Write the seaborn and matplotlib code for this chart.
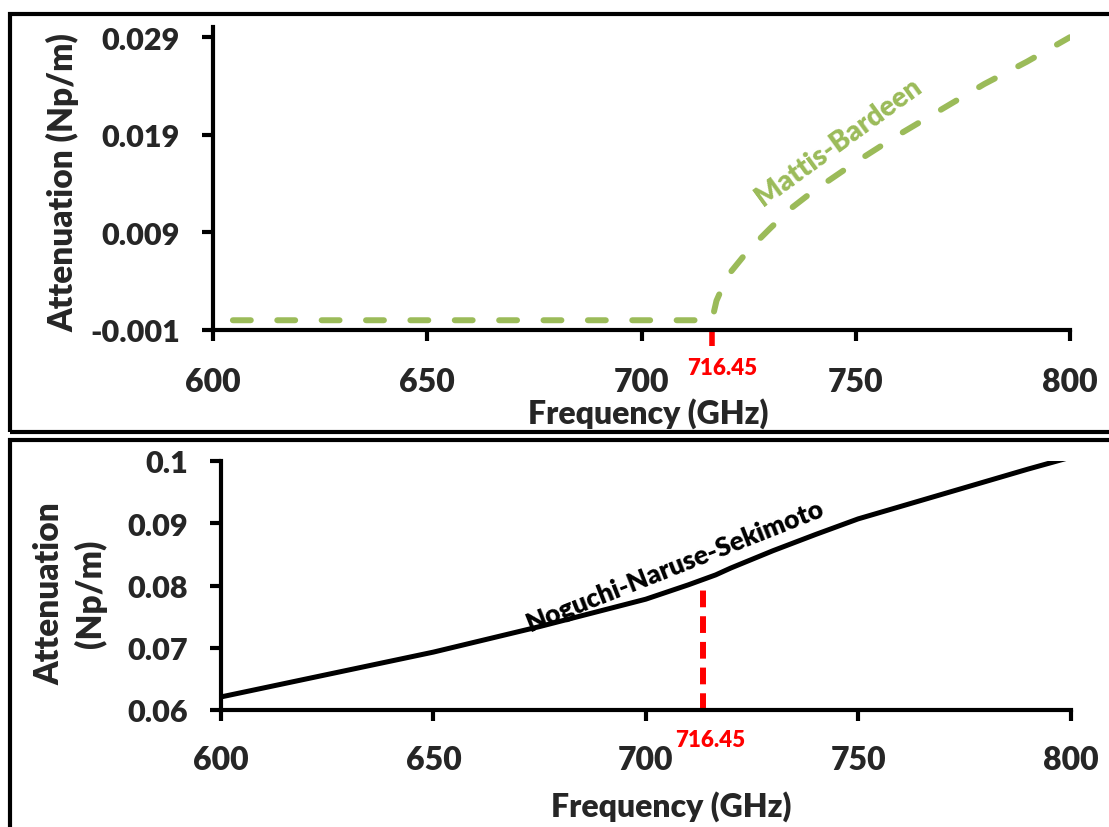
import matplotlib
matplotlib.use("Agg")
import matplotlib.pyplot as plt
import seaborn as sns
from matplotlib.patches import Rectangle

# ---------------- data ----------------
# Mattis-Bardeen attenuation (Np/m) vs frequency (GHz)
freq_mb = [600, 650, 700, 716.45, 717.5, 720, 725, 730, 735, 740, 745, 750,
           760, 770, 780, 790, 800]
att_mb = [0.0, 0.0, 0.0, 0.0, 0.0020, 0.0045, 0.0072, 0.0094, 0.0115, 0.0132,
          0.0147, 0.0162, 0.0190, 0.0216, 0.0242, 0.0265, 0.0290]

# Noguchi-Naruse-Sekimoto attenuation (Np/m) vs frequency (GHz)
freq_nns = [600, 625, 650, 675, 700, 710, 716.45, 720, 730, 740, 750, 760,
            775, 790, 800]
att_nns = [0.0621, 0.0657, 0.0693, 0.0734, 0.0778, 0.0801, 0.0817, 0.0828,
           0.0856, 0.0882, 0.0907, 0.0927, 0.0957, 0.0987, 0.1006]

gap_freq = 716.45
gap_label = "716.45"
nns_marker_freq = 713.5
nns_marker_top = 0.0805

x_ticks = [600, 650, 700, 750, 800]
top_yticks = [-0.001, 0.009, 0.019, 0.029]
top_yticklabels = ["-0.001", "0.009", "0.019", "0.029"]
bot_yticks = [0.06, 0.07, 0.08, 0.09, 0.1]
bot_yticklabels = ["0.06", "0.07", "0.08", "0.09", "0.1"]

GREEN = "#9BBB59"
RED = "#FF0000"
FW = "heavy"

# ---------------- style ----------------
sns.set_theme(style="white")
plt.rcParams["font.family"] = ["Lato", "DejaVu Sans"]
plt.rcParams["font.weight"] = FW
plt.rcParams["axes.unicode_minus"] = False

W, H = 1109, 828
fig = plt.figure(figsize=(W / 100, H / 100), dpi=100)

def px_axes(x0, x1, y0, y1):
    return fig.add_axes([x0 / W, 1 - y1 / H, (x1 - x0) / W, (y1 - y0) / H])

ax1 = px_axes(213, 1070, 28.4, 331)
ax2 = px_axes(221, 1070.5, 462, 711)

for ax in (ax1, ax2):
    for s in ("top", "right"):
        ax.spines[s].set_visible(False)
    for s in ("left", "bottom"):
        ax.spines[s].set_linewidth(3)
        ax.spines[s].set_color("black")
    ax.tick_params(axis="both", which="major", direction="out", length=8,
                   width=3, color="black", bottom=True, left=True)
    ax.tick_params(axis="y", labelsize=22, pad=16)
    ax.set_xlim(600, 800)
    ax.set_xticks(x_ticks)
    ax.set_xticklabels([str(v) for v in x_ticks], fontweight=FW)
    ax.set_facecolor("white")

ax1.tick_params(axis="x", labelsize=23, pad=19)
ax2.tick_params(axis="x", labelsize=23, pad=17)

# ---------------- top panel ----------------
sns.lineplot(x=freq_mb, y=att_mb, ax=ax1, color=GREEN, linewidth=4.3,
             linestyle=(4.1, (3, 4.43)), dash_capstyle="round")
ax1.set_ylim(-0.001, 0.030)
ax1.set_yticks(top_yticks)
ax1.set_yticklabels(top_yticklabels, fontweight=FW)
ax1.set_xticks([gap_freq], minor=True)
ax1.tick_params(axis="x", which="minor", direction="out", length=11.5,
                width=4, color=RED, bottom=True, labelbottom=False)
ax1.annotate(gap_label, xy=(gap_freq, 0), xycoords=("data", "axes fraction"),
             xytext=(7, -27), textcoords="offset points", ha="center",
             va="center", color=RED, fontsize=16, fontweight=FW)
ax1.set_xlabel("Frequency (GHz)", fontsize=23, fontweight=FW)
ax1.xaxis.set_label_coords(0.508, -0.22)
ax1.set_ylabel("Attenuation (Np/m)", fontsize=24, fontweight=FW)
ax1.yaxis.set_label_coords(-0.156, 0.49)
ax1.text(746, 0.0183, "Mattis-Bardeen", color=GREEN, fontsize=20,
         fontweight=FW, rotation=36, ha="center", va="center",
         rotation_mode="anchor")

# ---------------- bottom panel ----------------
sns.lineplot(x=freq_nns, y=att_nns, ax=ax2, color="black", linewidth=3.6)
ax2.vlines(nns_marker_freq, bot_yticks[0], nns_marker_top, colors=RED,
           linewidth=4.3, linestyles=(0, (2.8, 1.5)))
ax2.set_ylim(0.06, 0.1)
ax2.set_yticks(bot_yticks)
ax2.set_yticklabels(bot_yticklabels, fontweight=FW)
ax2.annotate(gap_label, xy=(nns_marker_freq, 0),
             xycoords=("data", "axes fraction"), xytext=(5, -21),
             textcoords="offset points", ha="center", va="center",
             color=RED, fontsize=16, fontweight=FW)
ax2.set_xlabel("Frequency (GHz)", fontsize=23, fontweight=FW)
ax2.xaxis.set_label_coords(0.53, -0.32)
ax2.set_ylabel("Attenuation\n(Np/m)", fontsize=24, fontweight=FW,
               linespacing=1.3)
ax2.yaxis.set_label_coords(-0.134, 0.47)
ax2.text(706.7, 0.0833, "Noguchi-Naruse-Sekimoto", color="black",
         fontsize=19, fontweight=FW, rotation=21.6, ha="center",
         va="center", rotation_mode="anchor")

# ---------------- panel frames ----------------
fig.add_artist(Rectangle((10 / W, 1 - 433 / H), 1.2, (433 - 15) / H,
                         transform=fig.transFigure, fill=False,
                         edgecolor="black", linewidth=3, clip_on=False))
fig.add_artist(Rectangle((10 / W, -0.2), 1.2, 0.2 + (1 - 441 / H),
                         transform=fig.transFigure, fill=False,
                         edgecolor="black", linewidth=3, clip_on=False))

fig.savefig("out.png", dpi=100, facecolor="white")
